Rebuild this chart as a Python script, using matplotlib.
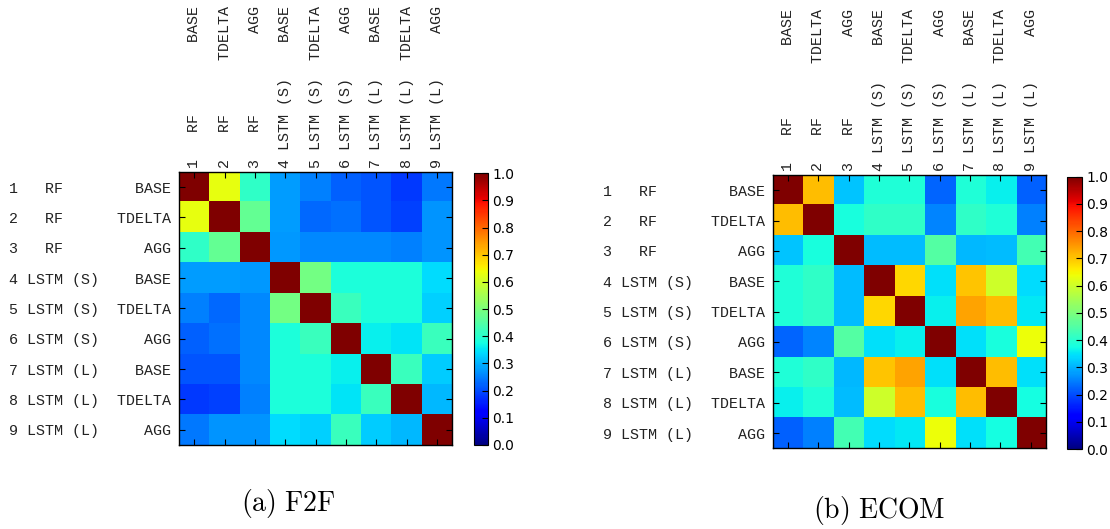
import numpy as np
import matplotlib
matplotlib.use("Agg")
import matplotlib.pyplot as plt

plt.rcParams['mathtext.fontset'] = 'cm'

# row / column descriptors
ids = [1, 2, 3, 4, 5, 6, 7, 8, 9]
models = ['RF', 'RF', 'RF', 'LSTM', 'LSTM', 'LSTM', 'LSTM', 'LSTM', 'LSTM']
windows = ['', '', '', '(S)', '(S)', '(S)', '(L)', '(L)', '(L)']
features = ['BASE', 'TDELTA', 'AGG'] * 3

# correlation between prediction errors, F2F dataset
f2f_corr = [
    [1.00, 0.63, 0.41, 0.28, 0.25, 0.22, 0.21, 0.18, 0.245],
    [0.63, 1.00, 0.47, 0.28, 0.23, 0.235, 0.21, 0.19, 0.27],
    [0.41, 0.47, 1.00, 0.275, 0.26, 0.26, 0.26, 0.25, 0.27],
    [0.28, 0.28, 0.275, 1.00, 0.49, 0.385, 0.385, 0.385, 0.34],
    [0.25, 0.23, 0.26, 0.49, 1.00, 0.42, 0.385, 0.385, 0.33],
    [0.22, 0.235, 0.26, 0.385, 0.42, 1.00, 0.36, 0.35, 0.42],
    [0.21, 0.21, 0.26, 0.385, 0.385, 0.36, 1.00, 0.42, 0.325],
    [0.18, 0.19, 0.25, 0.385, 0.385, 0.35, 0.42, 1.00, 0.305],
    [0.245, 0.27, 0.27, 0.34, 0.33, 0.42, 0.325, 0.305, 1.00],
]

# same for the ECOM dataset
ecom_corr = [
    [1.00, 0.71, 0.32, 0.39, 0.39, 0.225, 0.39, 0.36, 0.22],
    [0.71, 1.00, 0.38, 0.41, 0.41, 0.255, 0.41, 0.39, 0.25],
    [0.32, 0.38, 1.00, 0.31, 0.31, 0.45, 0.305, 0.31, 0.43],
    [0.39, 0.41, 0.31, 1.00, 0.68, 0.345, 0.70, 0.60, 0.34],
    [0.39, 0.41, 0.31, 0.68, 1.00, 0.36, 0.735, 0.71, 0.355],
    [0.225, 0.255, 0.45, 0.345, 0.36, 1.00, 0.345, 0.38, 0.64],
    [0.39, 0.41, 0.305, 0.70, 0.735, 0.345, 1.00, 0.71, 0.345],
    [0.36, 0.39, 0.31, 0.60, 0.71, 0.38, 0.71, 1.00, 0.375],
    [0.22, 0.25, 0.43, 0.34, 0.355, 0.64, 0.345, 0.375, 1.00],
]

labels = [f"{i} {m:>4} {w:>3}  {f:>6}"
          for i, m, w, f in zip(ids, models, windows, features)]


def draw_corr(fig, data, ax_rect, cax_rect, caption, cap_xy):
    ax = fig.add_axes(ax_rect)
    im = ax.imshow(np.array(data), cmap='jet', vmin=0, vmax=1,
                   interpolation='nearest', aspect='auto')
    ax.set_xticks(range(len(labels)))
    ax.set_yticks(range(len(labels)))
    ax.set_xticklabels(labels, rotation=90, family='Liberation Mono',
                       fontsize=10.8, color='#222222')
    ax.set_yticklabels(labels, family='Liberation Mono',
                       fontsize=10.8, color='#222222')
    ax.xaxis.tick_top()
    ax.tick_params(direction='in', length=4, width=0.8,
                   top=True, bottom=True, left=True, right=True,
                   labeltop=True, labelbottom=False)
    ax.tick_params(axis='x', pad=3)
    ax.tick_params(axis='y', pad=5.5)
    for s in ax.spines.values():
        s.set_linewidth(1.0)

    cax = fig.add_axes(cax_rect)
    cb = fig.colorbar(im, cax=cax, ticks=np.arange(0, 1.01, 0.1), format='%.1f')
    cb.ax.tick_params(direction='in', length=4, width=0.8, labelsize=10, pad=3)
    cb.outline.set_linewidth(0.8)

    fig.text(cap_xy[0], cap_xy[1], caption, ha='center', va='baseline', fontsize=20)


fig = plt.figure(figsize=(11.1, 5.29), dpi=100)

draw_corr(fig, f2f_corr,
          [0.1613, 0.1588, 0.2459, 0.5161],
          [0.4270, 0.1588, 0.0129, 0.5136],
          r'$\mathrm{(a)\ F2F}$', (0.260, 0.034))
draw_corr(fig, ecom_corr,
          [0.6961, 0.1526, 0.2462, 0.5166],
          [0.9616, 0.1512, 0.0130, 0.5147],
          r'$\mathrm{(b)\ ECOM}$', (0.792, 0.021))

fig.savefig('out.png', dpi=100)
